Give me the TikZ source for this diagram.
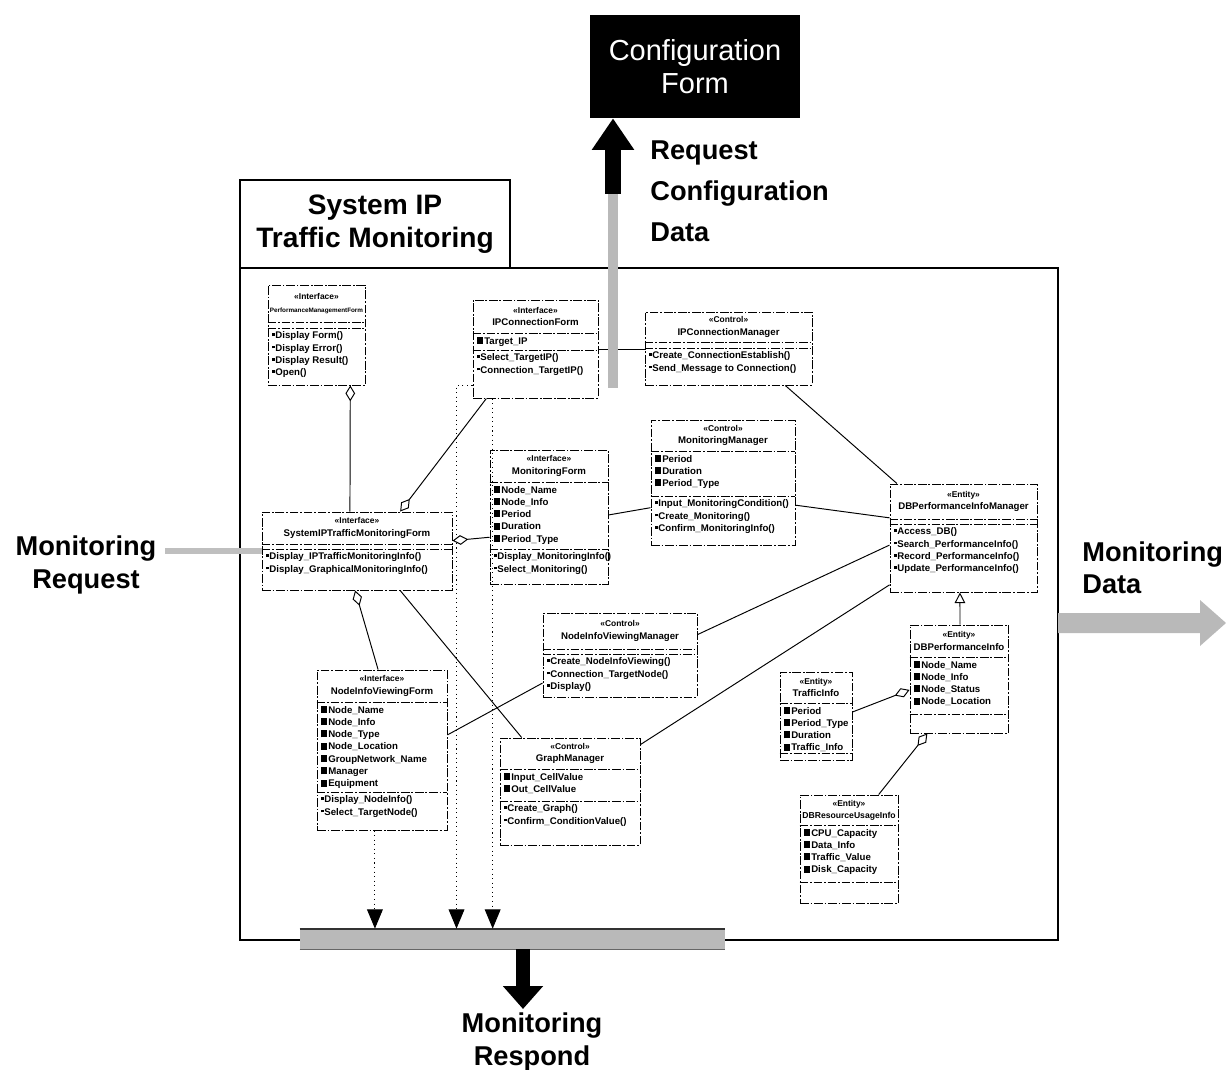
\documentclass[tikz,border=0pt]{standalone}
\usepackage{fontspec}
\setmainfont{Liberation Sans}
\usetikzlibrary{arrows.meta,calc,fit}

% small compartment icons
\newcommand\attrmark{\rule[0.1pt]{3.3pt}{4pt}\hspace{0.9pt}}
\newcommand\opmark{\rule[1.6pt]{1.6pt}{1.6pt}\hspace{0.4pt}}
\newcommand\stereo{\fontsize{4.8}{6.8}\selectfont}

\tikzset{
  classframe/.style={draw, line width=0.55pt, dash pattern=on 5pt off 1pt on 1pt off 1pt, inner sep=0pt},
  classrule/.style={line width=0.5pt, dash pattern=on 5pt off 1pt on 1pt off 1pt},
  classhead/.style={font=\fontsize{5.5}{7}\selectfont\bfseries, align=center, inner sep=0pt},
  classbody/.style={font=\fontsize{5.5}{7}\selectfont\bfseries, align=left, anchor=north west, inner sep=0pt},
  assoc/.style={line width=0.55pt},
  agg/.style={assoc, {Diamond[open, length=9pt, width=5.5pt]}-},
  gen/.style={assoc, -{Triangle[open, length=6pt, width=6pt]}},
  dep/.style={line width=0.6pt, dotted, -{Triangle[length=11pt, width=9pt]}},
  bigtext/.style={font=\fontsize{15.5}{18.5}\selectfont\bfseries, inner sep=0pt},
  heavyframe/.style={draw, line width=1.1pt, inner sep=0pt},
}

% UML class box: name, top-left, width, heights of name/attribute/operation parts, texts
\newcommand\umlclass[9]{%
  \coordinate (#1-nw) at (#2);
  \coordinate (#1-se) at ($(#2)+(#3,#4+#5+#6)$);
  \node[classframe, fit=(#1-nw)(#1-se)] (#1) {};
  \draw[classrule] ($(#1.north west)+(0,#4)$) -- ($(#1.north east)+(0,#4)$);
  \draw[classrule] ($(#1.north west)+(0,#4+#5)$) -- ($(#1.north east)+(0,#4+#5)$);
  \node[classhead] at ($(#1.north)+(0,#4/2)$) {#7};
  \node[classbody] at ($(#1.north west)+(4,#4+3)$) {#8};
  \node[classbody] at ($(#1.north west)+(4,#4+#5+3)$) {#9};
}

\begin{document}
\begin{tikzpicture}[x=0.02cm, y=-0.02cm]
\useasboundingbox (0,0) rectangle (1226,1070);

% system frame with its title tab
\coordinate (frame-nw) at (240,268); \coordinate (frame-se) at (1058,940);
\node[heavyframe, fit=(frame-nw)(frame-se)] (frame) {};
\coordinate (tab-nw) at (240,180); \coordinate (tab-se) at (510,268);
\node[heavyframe, fit=(tab-nw)(tab-se)] (tab) {};
\node[bigtext, align=center, font=\fontsize{16}{19}\selectfont\bfseries] (title) at (tab.center) {System IP\\Traffic Monitoring};

% classes
\umlclass{pmf}{268,285}{97}{38}{6}{56}
  {{\stereo «Interface»}\\{\fontsize{3.6}{6}\selectfont PerformanceManagementForm}}
  {}
  {\opmark Display Form()\\\opmark Display Error()\\\opmark Display Result()\\\opmark Open()}

\umlclass{ipcf}{473,300}{125}{34}{17}{47}
  {{\stereo «Interface»}\\IPConnectionForm}
  {\attrmark Target\_IP}
  {\opmark Select\_TargetIP()\\\opmark Connection\_TargetIP()}

\umlclass{ipcm}{645,312}{167}{31}{6}{36}
  {{\stereo «Control»}\\IPConnectionManager}
  {}
  {\opmark Create\_ConnectionEstablish()\\\opmark Send\_Message to Connection()}

\umlclass{mf}{490,450}{118}{33}{67}{34}
  {{\stereo «Interface»}\\MonitoringForm}
  {\attrmark Node\_Name\\\attrmark Node\_Info\\\attrmark Period\\\attrmark Duration\\\attrmark Period\_Type}
  {\opmark Display\_MonitoringInfo()\\\opmark Select\_Monitoring()}

\umlclass{mm}{651,420}{144}{32}{45}{48}
  {{\stereo «Control»}\\MonitoringManager}
  {\attrmark Period\\\attrmark Duration\\\attrmark Period\_Type}
  {\opmark Input\_MonitoringCondition()\\\opmark Create\_Monitoring()\\\opmark Confirm\_MonitoringInfo()}

\umlclass{sitmf}{262,512}{190}{33}{5}{40}
  {{\stereo «Interface»}\\SystemIPTrafficMonitoringForm}
  {}
  {\opmark Display\_IPTrafficMonitoringInfo()\\\opmark Display\_GraphicalMonitoringInfo()}

\umlclass{dbpim}{890,484}{147}{36}{5}{67}
  {{\stereo «Entity»}\\DBPerformanceInfoManager}
  {}
  {\opmark Access\_DB()\\\opmark Search\_PerformanceInfo()\\\opmark Record\_PerformanceInfo()\\\opmark Update\_PerformanceInfo()}

\umlclass{nivm}{543,613}{154}{37}{5}{42}
  {{\stereo «Control»}\\NodeInfoViewingManager}
  {}
  {\opmark Create\_NodeInfoViewing()\\\opmark Connection\_TargetNode()\\\opmark Display()}

\umlclass{nivf}{317,670}{130}{33}{90}{37}
  {{\stereo «Interface»}\\NodeInfoViewingForm}
  {\attrmark Node\_Name\\\attrmark Node\_Info\\\attrmark Node\_Type\\\attrmark Node\_Location\\\attrmark GroupNetwork\_Name\\\attrmark Manager\\\attrmark Equipment}
  {\opmark Display\_NodeInfo()\\\opmark Select\_TargetNode()}

\umlclass{gm}{500,738}{140}{32}{32}{43}
  {{\stereo «Control»}\\GraphManager}
  {\attrmark Input\_CellValue\\\attrmark Out\_CellValue}
  {\opmark Create\_Graph()\\\opmark Confirm\_ConditionValue()}

\umlclass{dbpi}{910,625}{98}{33}{57}{18}
  {{\stereo «Entity»}\\DBPerformanceInfo}
  {\attrmark Node\_Name\\\attrmark Node\_Info\\\attrmark Node\_Status\\\attrmark Node\_Location}
  {}

\umlclass{ti}{780,672}{72}{32}{50}{6}
  {{\stereo «Entity»}\\TrafficInfo}
  {\attrmark Period\\\attrmark Period\_Type\\\attrmark Duration\\\attrmark Traffic\_Info}
  {}

\umlclass{dbrui}{800,795}{98}{31}{57}{20}
  {{\stereo «Entity»}\\{\fontsize{4.9}{7}\selectfont DBResourceUsageInfo}}
  {\attrmark CPU\_Capacity\\\attrmark Data\_Info\\\attrmark Traffic\_Value\\\attrmark Disk\_Capacity}
  {}

% associations
\draw[agg] ($(pmf.south west)!0.845!(pmf.south east)$) -- ($(sitmf.north west)!0.463!(sitmf.north east)$);
\draw[agg] ($(sitmf.north west)!0.726!(sitmf.north east)$) -- ($(ipcf.south west)!0.11!(ipcf.south east)$);
\draw[assoc] (ipcf.east) -- (ipcm.west |- ipcf.east);
\draw[assoc] ($(ipcm.south west)!0.838!(ipcm.south east)$) -- ($(dbpim.north west)!0.05!(dbpim.north east)$);
\draw[agg] ($(sitmf.north east)!0.37!(sitmf.south east)$) -- ($(mf.north west)!0.65!(mf.south west)$);
\draw[assoc] ($(mf.north east)!0.485!(mf.south east)$) -- ($(mm.north west)!0.70!(mm.south west)$);
\draw[assoc] ($(mm.north east)!0.68!(mm.south east)$) -- ($(dbpim.north west)!0.315!(dbpim.south west)$);
\draw[agg] ($(sitmf.south west)!0.49!(sitmf.south east)$) -- ($(nivf.north west)!0.47!(nivf.north east)$);
\draw[assoc] ($(sitmf.south west)!0.726!(sitmf.south east)$) -- ($(gm.north west)!0.157!(gm.north east)$);
\draw[assoc] ($(nivf.north east)!0.406!(nivf.south east)$) -- ($(nivm.north west)!0.83!(nivm.south west)$);
\draw[assoc] ($(nivm.north east)!0.26!(nivm.south east)$) -- ($(dbpim.north west)!0.565!(dbpim.south west)$);
\draw[assoc] ($(gm.north east)!0.065!(gm.south east)$) -- ($(dbpim.north west)!0.93!(dbpim.south west)$);
\draw[gen] ($(dbpi.north west)!0.51!(dbpi.north east)$) -- ($(dbpim.south west)!0.476!(dbpim.south east)$);
\draw[agg] ($(dbpi.north west)!0.6!(dbpi.south west)$) -- ($(ti.north east)!0.455!(ti.south east)$);
\draw[agg] ($(dbpi.south west)!0.18!(dbpi.south east)$) -- ($(dbrui.north west)!0.8!(dbrui.north east)$);

% response bar at the bottom of the frame
\coordinate (bar-nw) at (300,929); \coordinate (bar-se) at (725,949);
\node[fill=gray!55, inner sep=0pt, fit=(bar-nw)(bar-se)] (bar) {};
\draw[line width=1pt, black!80] (bar.north west) -- (bar.north east);
\draw[line width=0.5pt, black!60] (bar.south west) -- (bar.south east);

% dependencies into the response bar
\draw[dep] ($(nivf.south west)!0.446!(nivf.south east)$) coordinate (d1) -- (d1 |- bar.north);
\draw[dep] ($(ipcf.north west)!0.867!(ipcf.south west)$) -- ++(-16,0) coordinate (d2) -- (d2 |- bar.north);
\draw[dep] ($(ipcf.south west)!0.16!(ipcf.south east)$) coordinate (d3) -- (d3 |- bar.north);

% configuration form and its request arrow
\coordinate (cfg-nw) at (590,15); \coordinate (cfg-se) at (800,118);
\node[fill=black, inner sep=0pt, fit=(cfg-nw)(cfg-se)] (cfg) {};
\node[text=white, align=center, font=\fontsize{16.5}{19}\selectfont] at (cfg.center) {Configuration\\Form};
\coordinate (reqout) at (613,388);
\coordinate (reqturn) at (613,192);
\draw[gray!55, line width=6pt] (reqout) -- (reqturn);
\draw[black, line width=9pt, -{Triangle[length=18pt, width=23pt]}] ([yshift=-1pt]reqturn) -- (reqturn |- cfg.south);
\node[bigtext, anchor=north west, align=left, font=\fontsize{15.5}{23.5}\selectfont\bfseries] (reqlabel) at (650,140) {Request\\Configuration\\Data};

% monitoring request entering from the left
\node[bigtext, align=center] (reqin) at (86,565) {Monitoring\\Request};
\coordinate (reqstart) at (165,551);
\draw[gray!50, line width=3.5pt] (reqstart) -- (sitmf.west |- reqstart);

% monitoring data leaving to the right
\fill[gray!55] (1058,613) -- (1200,613) -- (1200,600) -- (1226,623) -- (1200,646) -- (1200,633) -- (1058,633) -- cycle;
\node[bigtext, anchor=west, align=left] (datalabel) at (1082,568) {Monitoring\\Data};

% monitoring response leaving at the bottom
\coordinate (respond) at (523,1009);
\draw[black, line width=8.5pt, -{Triangle[length=13pt, width=22pt]}] (bar.south -| respond) -- (respond);
\node[bigtext, align=center] (resplabel) at (532,1042) {Monitoring\\Respond};

\end{tikzpicture}
\end{document}
